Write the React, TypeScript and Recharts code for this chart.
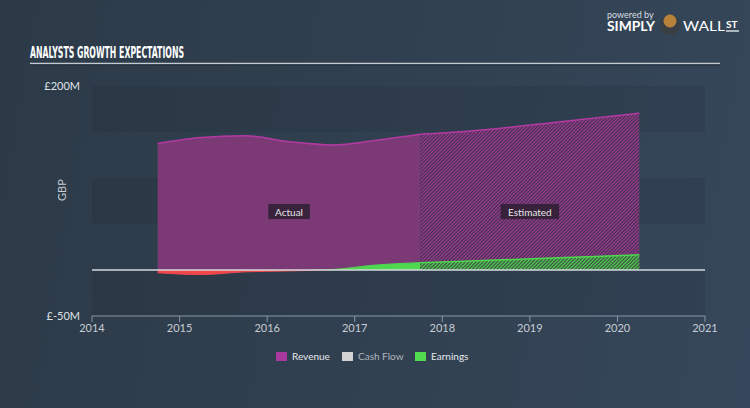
import React from "react";
import {
  ComposedChart,
  Area,
  XAxis,
  YAxis,
  ReferenceArea,
  ReferenceLine,
  ReferenceDot,
  Label,
} from "recharts";

// values (GBP millions)
const actualYears = [2014.75, 2015.25, 2015.75, 2016.25, 2016.75, 2017.25, 2017.75];
const revenueActual = [137.5, 144, 146, 139.5, 136, 141, 147.5];
const earningsActual = [-3, -5, -2, -1, 0.5, 5.5, 8];

const estimateYears = [2017.75, 2018.25, 2019.25, 2020.25];
const revenueEstimate = [147.5, 150.5, 160, 170.5];
const earningsEstimate = [8, 9.5, 13, 16.5];

const xTicks = [2014, 2015, 2016, 2017, 2018, 2019, 2020, 2021];
const yTicks = [-50, 200];
const bands = [
  [150, 200],
  [50, 100],
  [-50, 0],
];

const phaseLabels = ["Actual", "Estimated"];
const phaseLabelX = [2016.25, 2019];
const phaseLabelY = 63;

const legendNames = ["Revenue", "Cash Flow", "Earnings"];
const legendColors = ["#a8389c", "#d2d2d2", "#4fdc4f"];

// merge both series into one table keyed by year
const years = Array.from(new Set([...actualYears, ...estimateYears])).sort((a, b) => a - b);
const data = years.map((yr) => {
  const ai = actualYears.indexOf(yr);
  const ei = estimateYears.indexOf(yr);
  return {
    year: yr,
    revenueActual: ai >= 0 ? revenueActual[ai] : null,
    earningsActual: ai >= 0 ? earningsActual[ai] : null,
    revenueEstimate: ei >= 0 ? revenueEstimate[ei] : null,
    earningsEstimate: ei >= 0 ? earningsEstimate[ei] : null,
  };
});

const eMax = Math.max(...earningsActual, 0);
const eMin = Math.min(...earningsActual, 0);
const zeroOffset = eMax / (eMax - eMin);

const FONT = "Lato, 'Open Sans', sans-serif";

function PhaseTag(props: any) {
  const { cx, cy, text } = props;
  const w = text.length * 5.6 + 8;
  return (
    <g>
      <rect x={cx - w / 2} y={cy - 8} width={w} height={15} fill="#2e1f33" opacity={0.85} />
      <text
        x={cx}
        y={cy + 3.5}
        textAnchor="middle"
        fontSize={10}
        fontFamily={FONT}
        fill="#e6e6e6"
      >
        {text}
      </text>
    </g>
  );
}

export default function App() {
  return (
    <div
      style={{
        position: "absolute",
        left: 0,
        top: 0,
        width: 750,
        height: 408,
        overflow: "hidden",
        background: "linear-gradient(100deg, #2c3a48 0%, #314050 50%, #35475a 100%)",
        fontFamily: FONT,
      }}
    >
      <ComposedChart
        width={750}
        height={408}
        data={data}
        margin={{ top: 86, right: 45, left: 0, bottom: 62 }}
      >
        <defs>
          <pattern
            id="hatchRevenue"
            patternUnits="userSpaceOnUse"
            width={2.5}
            height={2.5}
            patternTransform="rotate(45)"
          >
            <rect width={2.5} height={2.5} fill="#42304d" />
            <line x1={0.6} y1={0} x2={0.6} y2={2.5} stroke="#a23c97" strokeWidth={1.2} />
          </pattern>
          <pattern
            id="hatchEarnings"
            patternUnits="userSpaceOnUse"
            width={2.5}
            height={2.5}
            patternTransform="rotate(45)"
          >
            <rect width={2.5} height={2.5} fill="#3f4e46" />
            <line x1={0.6} y1={0} x2={0.6} y2={2.5} stroke="#4fd84f" strokeWidth={1.2} />
          </pattern>
          <linearGradient id="earnSplit" x1="0" y1="0" x2="0" y2="1">
            <stop offset={0} stopColor="#4fd84f" />
            <stop offset={zeroOffset} stopColor="#4fd84f" />
            <stop offset={zeroOffset} stopColor="#f0474d" />
            <stop offset={1} stopColor="#f0474d" />
          </linearGradient>
        </defs>

        {bands.map(([lo, hi]) => (
          <ReferenceArea
            key={lo}
            y1={lo}
            y2={hi}
            fill="#1d2833"
            fillOpacity={0.16}
            stroke="none"
          />
        ))}

        <XAxis
          type="number"
          dataKey="year"
          domain={[2014, 2021]}
          ticks={xTicks}
          allowDecimals={false}
          height={30}
          stroke="#8a98a6"
          tick={{ fill: "#c6cdd4", fontSize: 11, fontFamily: FONT }}
          tickLine={{ stroke: "#8a98a6" }}
        />
        <YAxis
          type="number"
          domain={[-50, 200]}
          ticks={yTicks}
          width={92}
          axisLine={false}
          tickLine={false}
          tickMargin={6}
          tick={{ fill: "#dfe3e7", fontSize: 11, fontFamily: FONT }}
          tickFormatter={(v: number) => `£${v}M`}
        >
          <Label
            value="GBP"
            angle={-90}
            position="insideLeft"
            offset={62}
            style={{ fill: "#c6cdd4", fontSize: 11, fontFamily: FONT }}
          />
        </YAxis>

        <ReferenceLine y={0} stroke="#d5d9dd" strokeWidth={1.5} />

        <Area
          type="monotone"
          dataKey="revenueActual"
          stroke="#b43aa2"
          strokeWidth={1.5}
          fill="#7b3a76"
          fillOpacity={1}
          isAnimationActive={false}
          dot={false}
          activeDot={false}
        />
        <Area
          type="monotone"
          dataKey="revenueEstimate"
          stroke="#b43aa2"
          strokeWidth={1.5}
          fill="url(#hatchRevenue)"
          fillOpacity={1}
          isAnimationActive={false}
          dot={false}
          activeDot={false}
        />
        <Area
          type="monotone"
          dataKey="earningsActual"
          stroke="url(#earnSplit)"
          strokeWidth={1}
          fill="url(#earnSplit)"
          fillOpacity={1}
          isAnimationActive={false}
          dot={false}
          activeDot={false}
        />
        <Area
          type="monotone"
          dataKey="earningsEstimate"
          stroke="#4fd84f"
          strokeWidth={1.5}
          fill="url(#hatchEarnings)"
          fillOpacity={1}
          isAnimationActive={false}
          dot={false}
          activeDot={false}
        />

        {phaseLabels.map((t, i) => (
          <ReferenceDot
            key={t}
            x={phaseLabelX[i]}
            y={phaseLabelY}
            r={0}
            shape={(p: any) => <PhaseTag {...p} text={t} />}
          />
        ))}
      </ComposedChart>

      <svg
        width={750}
        height={408}
        style={{ position: "absolute", left: 0, top: 0, pointerEvents: "none" }}
      >
        <text
          x={30}
          y={58}
          fontSize={15}
          fontWeight="bold"
          fontFamily="'DejaVu Sans Condensed', 'Liberation Sans Narrow', sans-serif"
          fill="#ffffff"
          textLength={154}
          lengthAdjust="spacingAndGlyphs"
        >
          ANALYSTS GROWTH EXPECTATIONS
        </text>
        <line x1={30} y1={63.5} x2={720} y2={63.5} stroke="#c3cad1" strokeWidth={1.3} />
        <line x1={30} y1={65} x2={720} y2={65} stroke="#1e2934" strokeWidth={1} />

        <text x={607} y={18} fontSize={9} fontFamily={FONT} fill="#d8dde2">
          powered by
        </text>
        <text
          x={607}
          y={31}
          fontSize={12.5}
          fontWeight="bold"
          fontFamily={FONT}
          fill="#ffffff"
          textLength={48}
          lengthAdjust="spacingAndGlyphs"
        >
          SIMPLY
        </text>
        <circle cx={670} cy={25} r={10} fill="#3a3f45" />
        <circle cx={670} cy={21} r={6.5} fill="#b8823a" />
        <text
          x={683}
          y={31}
          fontSize={12.5}
          fontFamily={FONT}
          fill="#ffffff"
          textLength={42}
          lengthAdjust="spacingAndGlyphs"
        >
          WALL
        </text>
        <text x={726} y={28} fontSize={10} fontWeight="bold" fontFamily={FONT} fill="#ffffff">
          ST
        </text>
        <line x1={726} y1={31} x2={739} y2={31} stroke="#ffffff" strokeWidth={1.2} />

        {legendNames.map((name, i) => {
          const xs = [276, 342, 415];
          return (
            <g key={name}>
              <rect x={xs[i]} y={352} width={11} height={9} fill={legendColors[i]} />
              <text
                x={xs[i] + 16}
                y={360}
                fontSize={10}
                fontFamily={FONT}
                fill={i === 1 ? "#aeb6be" : "#e4e7ea"}
              >
                {name}
              </text>
            </g>
          );
        })}
      </svg>
    </div>
  );
}
